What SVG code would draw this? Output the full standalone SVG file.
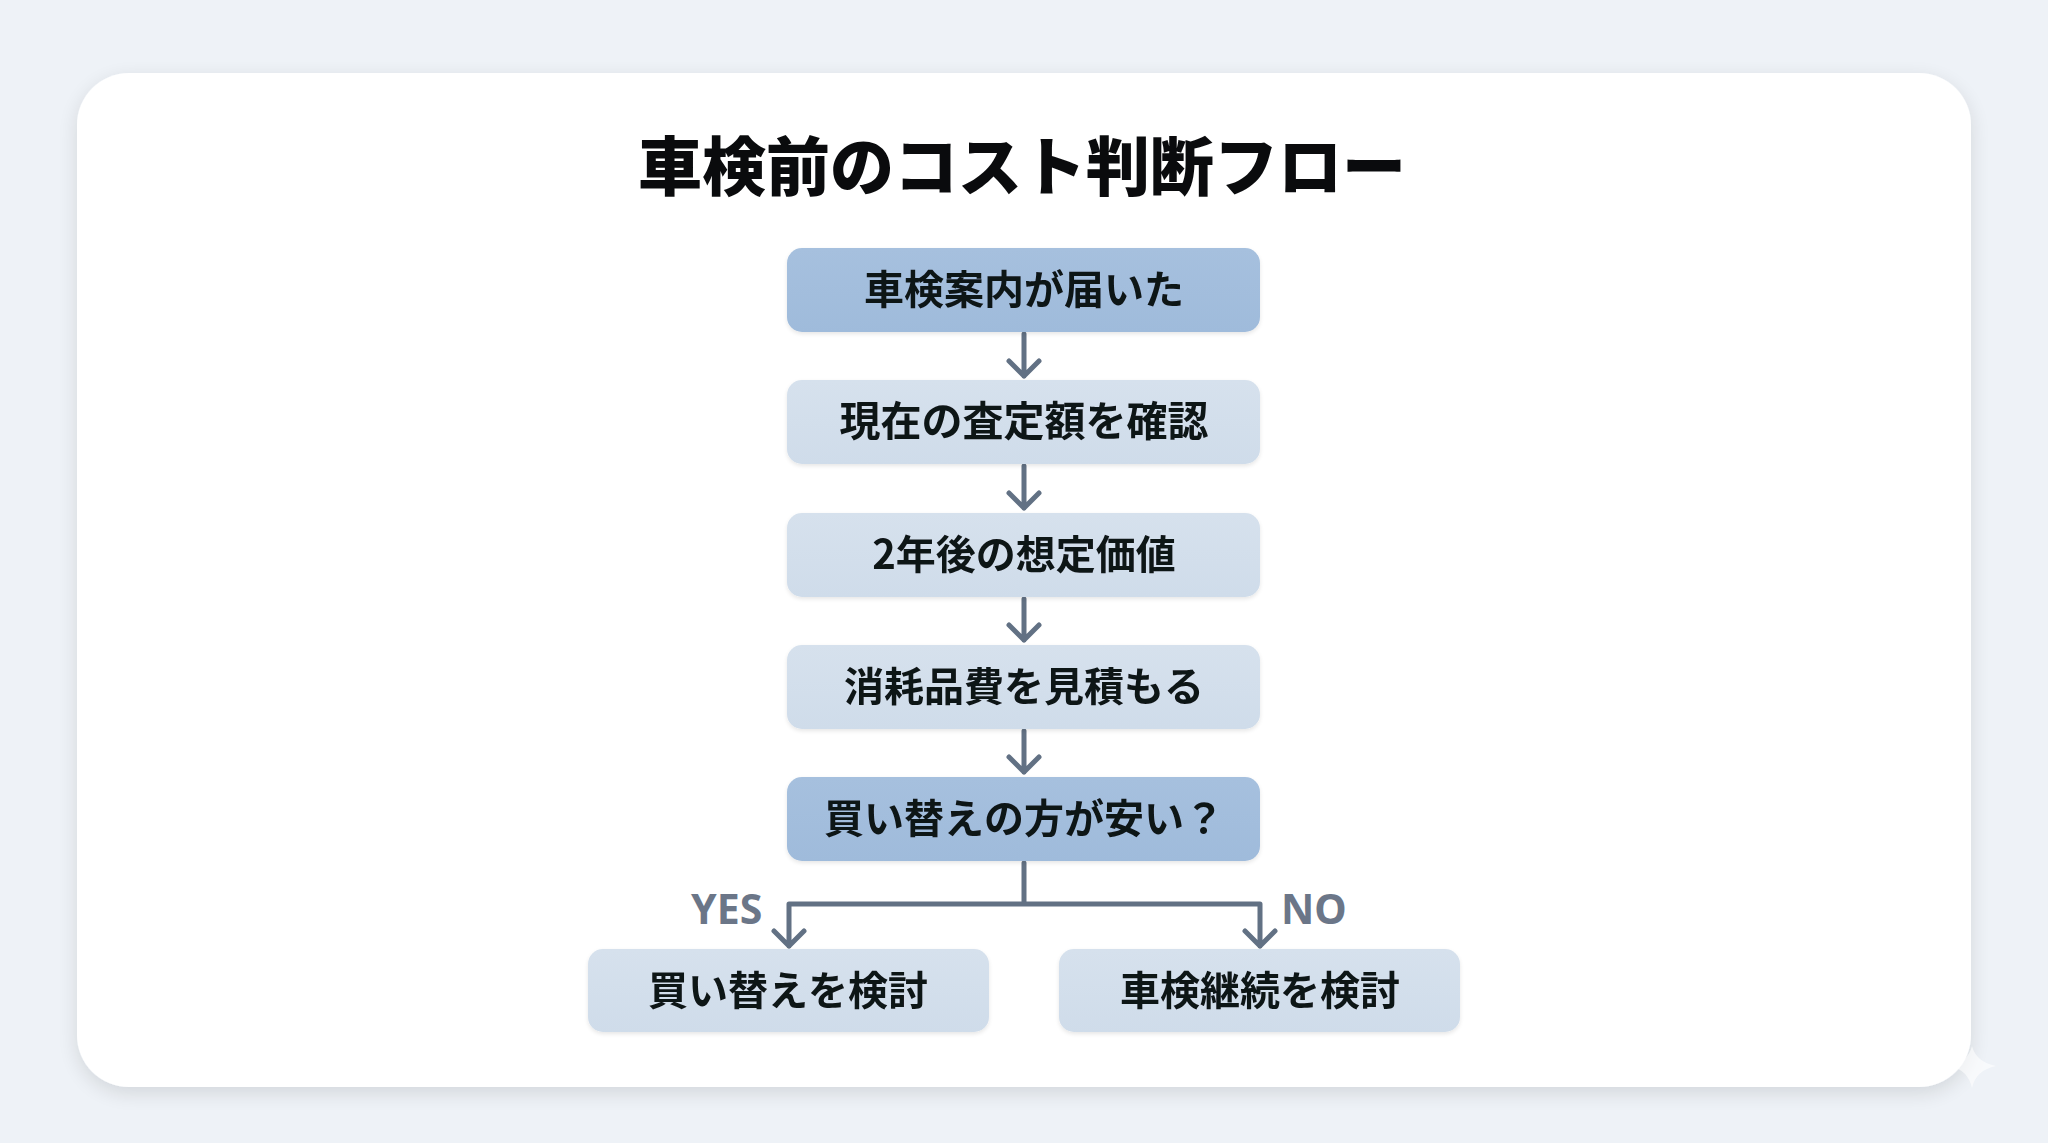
<svg xmlns="http://www.w3.org/2000/svg" width="2048" height="1143" viewBox="0 0 2048 1143">
  <defs>
    <filter id="cardShadow" x="-10%" y="-10%" width="120%" height="125%">
      <feGaussianBlur in="SourceAlpha" stdDeviation="10"/>
      <feOffset dy="6"/>
      <feComponentTransfer><feFuncA type="linear" slope="0.12"/></feComponentTransfer>
      <feMerge><feMergeNode/><feMergeNode in="SourceGraphic"/></feMerge>
    </filter>
    <filter id="boxShadow" x="-5%" y="-10%" width="110%" height="130%">
      <feGaussianBlur in="SourceAlpha" stdDeviation="2"/>
      <feOffset dy="2"/>
      <feComponentTransfer><feFuncA type="linear" slope="0.10"/></feComponentTransfer>
      <feMerge><feMergeNode/><feMergeNode in="SourceGraphic"/></feMerge>
    </filter>
    <linearGradient id="gDark" x1="0" y1="0" x2="0" y2="1">
      <stop offset="0" stop-color="#a6c0de"/>
      <stop offset="1" stop-color="#9fbbdb"/>
    </linearGradient>
    <linearGradient id="gLight" x1="0" y1="0" x2="0" y2="1">
      <stop offset="0" stop-color="#d6e1ed"/>
      <stop offset="1" stop-color="#cfdcea"/>
    </linearGradient>
  </defs>
  <style>
    .dark { fill: url(#gDark); }
    .light { fill: url(#gLight); }
    .lbl { font-family: "Noto Sans CJK JP", "Noto Sans", sans-serif; font-weight: 700; font-size: 40px; fill: #101317; text-anchor: middle; }
    .title { font-family: "Noto Sans CJK JP", "Noto Sans", sans-serif; font-weight: 900; font-size: 64px; fill: #0a0b0d; text-anchor: middle; }
    .br { font-family: "Noto Sans", "Liberation Sans", sans-serif; font-weight: 700; font-size: 41px; fill: #6b7688; }
    .conn { stroke: #627184; stroke-width: 5; fill: none; stroke-linecap: round; stroke-linejoin: round; }
  </style>
  <rect x="0" y="0" width="2048" height="1143" fill="#eef2f7"/>
  <g id="card">
    <rect x="77" y="73" width="1894" height="1014" rx="52" fill="#ffffff" filter="url(#cardShadow)"/>
  </g>
  <g id="title">
    <text class="title" x="1022" y="190">車検前のコスト判断フロー</text>
  </g>
  <g id="connectors">
    <path class="conn" d="M1024 334 V376 M1009 361 L1024 376 L1039 361"/>
    <path class="conn" d="M1024 466 V508 M1009 493 L1024 508 L1039 493"/>
    <path class="conn" d="M1024 599 V640 M1009 625 L1024 640 L1039 625"/>
    <path class="conn" d="M1024 731 V772 M1009 757 L1024 772 L1039 757"/>
    <path class="conn" d="M1024 863 V904 M789 946 V904 H1260 V946 M774 931 L789 946 L804 931 M1245 931 L1260 946 L1275 931"/>
  </g>
  <g id="n1" filter="url(#boxShadow)">
    <rect class="dark" x="787" y="248" width="473" height="84" rx="15"/>
    <text class="lbl" x="1024" y="304">車検案内が届いた</text>
  </g>
  <g id="n2" filter="url(#boxShadow)">
    <rect class="light" x="787" y="380" width="473" height="84" rx="15"/>
    <text class="lbl" x="1024" y="436" style="font-size:41px">現在の査定額を確認</text>
  </g>
  <g id="n3" filter="url(#boxShadow)">
    <rect class="light" x="787" y="513" width="473" height="84" rx="15"/>
    <text class="lbl" x="1024" y="569">2年後の想定価値</text>
  </g>
  <g id="n4" filter="url(#boxShadow)">
    <rect class="light" x="787" y="645" width="473" height="84" rx="15"/>
    <text class="lbl" x="1024" y="701">消耗品費を見積もる</text>
  </g>
  <g id="n5" filter="url(#boxShadow)">
    <rect class="dark" x="787" y="777" width="473" height="84" rx="15"/>
    <text class="lbl" x="1024" y="833">買い替えの方が安い？</text>
  </g>
  <g id="n6" filter="url(#boxShadow)">
    <rect class="light" x="588" y="949" width="401" height="83" rx="15"/>
    <text class="lbl" x="788" y="1005">買い替えを検討</text>
  </g>
  <g id="n7" filter="url(#boxShadow)">
    <rect class="light" x="1059" y="949" width="401" height="83" rx="15"/>
    <text class="lbl" x="1260" y="1005">車検継続を検討</text>
  </g>
  <g id="labels">
    <text class="br" x="691" y="924">YES</text>
    <text class="br" x="1281" y="924">NO</text>
  </g>
  <g id="sparkle">
    <path d="M1972 1046 Q1976 1062 1996 1066 Q1976 1070 1972 1088 Q1968 1070 1950 1066 Q1968 1062 1972 1046 Z" fill="#ffffff" opacity="0.6"/>
  </g>
</svg>
